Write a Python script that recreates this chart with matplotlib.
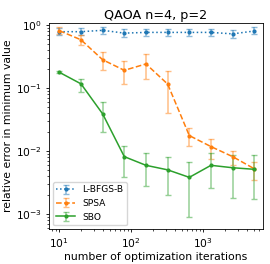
import numpy as np
import matplotlib
matplotlib.use("Agg")
import matplotlib.pyplot as plt

iters = [10, 20, 40, 80, 160, 320, 640, 1280, 2560, 5120]

# L-BFGS-B
lbfgs = [0.78, 0.78, 0.82, 0.74, 0.76, 0.76, 0.76, 0.76, 0.72, 0.80]
lbfgs_lo = [0.69, 0.68, 0.73, 0.65, 0.67, 0.67, 0.67, 0.67, 0.63, 0.71]
lbfgs_hi = [0.90, 0.89, 0.92, 0.85, 0.87, 0.87, 0.87, 0.87, 0.83, 0.91]

# SPSA
spsa = [0.81, 0.58, 0.28, 0.19, 0.24, 0.115, 0.0175, 0.0117, 0.0081, 0.0052]
spsa_lo = [0.72, 0.48, 0.19, 0.116, 0.137, 0.04, 0.012, 0.0074, 0.0059, 0.0034]
spsa_hi = [0.92, 0.68, 0.37, 0.27, 0.34, 0.188, 0.023, 0.0155, 0.0099, 0.0066]

# SBO
sbo = [0.177, 0.116, 0.0387, 0.0081, 0.0059, 0.005, 0.0038, 0.0059, 0.0054, 0.0051]
sbo_lo = [0.170, 0.087, 0.020, 0.0038, 0.0028, 0.002, 0.00089, 0.0026, 0.0018, 0.0017]
sbo_hi = [0.185, 0.139, 0.059, 0.0121, 0.0091, 0.0081, 0.0066, 0.0092, 0.0087, 0.0085]

series = [
    ("L-BFGS-B", lbfgs, lbfgs_lo, lbfgs_hi, ":", "#1f77b4"),
    ("SPSA", spsa, spsa_lo, spsa_hi, "--", "#ff7f0e"),
    ("SBO", sbo, sbo_lo, sbo_hi, "-", "#2ca02c"),
]

fig = plt.figure(figsize=(2.7, 2.64), dpi=100)
ax = fig.add_axes([49 / 270, 1 - 229 / 264, 214 / 270, 206 / 264])

for name, y, lo, hi, ls, c in series:
    y = np.array(y)
    err = [y - np.array(lo), np.array(hi) - y]
    eb = ax.errorbar(iters, y, yerr=err, ls=ls, color=c, marker=".", ms=4,
                     lw=1.1, capsize=2.5, elinewidth=1.1, ecolor=c, label=name)
    for l in eb[1]:
        l.set_alpha(0.5)
    for l in eb[2]:
        l.set_alpha(0.5)

ax.set_xscale("log")
ax.set_yscale("log")
ax.set_xlim(10 ** 0.857, 10 ** 3.83)
ax.set_ylim(10 ** -3.24, 10 ** 0.03)
for s in ax.spines.values():
    s.set_linewidth(0.6)
ax.tick_params(which="major", labelsize=7.7, length=2.5, width=0.6, pad=2.5)
ax.tick_params(which="minor", length=1.5, width=0.5)
ax.set_title("QAOA n=4, p=2", fontsize=9.2, pad=3)
ax.set_xlabel("number of optimization iterations", fontsize=7.8, labelpad=1.5)
ax.set_ylabel("relative error in minimum value", fontsize=7.8, labelpad=2.5)
ax.legend(loc="lower left", fontsize=6.6, borderaxespad=0.4)

fig.savefig("out.png", dpi=100)
